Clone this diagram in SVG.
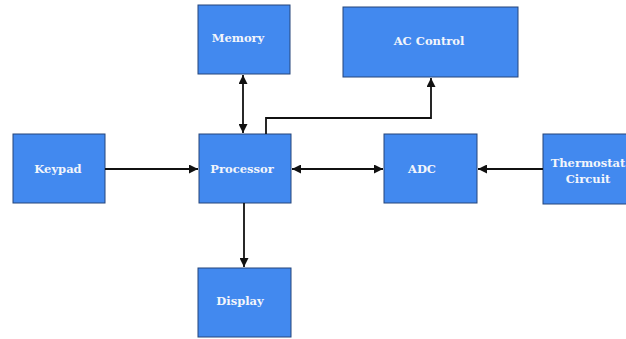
<svg xmlns="http://www.w3.org/2000/svg" width="626" height="339" viewBox="0 0 626 339">
<style>
.box{fill:#4289ef;stroke:#24457a;stroke-width:1}
.lbl{font-family:"DejaVu Serif","Liberation Serif",serif;font-weight:bold;font-size:11.5px;fill:#f2f5fb;text-anchor:middle;dominant-baseline:central}
.con{fill:none;stroke:#111;stroke-width:1.8}
</style>
<defs>
<marker id="ah" viewBox="0 0 10 10" refX="10" refY="5" markerWidth="9" markerHeight="9" orient="auto-start-reverse" markerUnits="userSpaceOnUse">
<path d="M0,0 L10,5 L0,10 z" fill="#111"/>
</marker>
</defs>
<rect width="626" height="339" fill="#fff"/>
<g id="memory"><rect class="box" x="198" y="5" width="92" height="69"/><text class="lbl" x="238" y="38">Memory</text></g>
<g id="ac-control"><rect class="box" x="343" y="7" width="175" height="70"/><text class="lbl" x="429" y="41">AC Control</text></g>
<g id="keypad"><rect class="box" x="13" y="134" width="92" height="69"/><text class="lbl" x="58" y="169">Keypad</text></g>
<g id="processor"><rect class="box" x="199" y="134" width="92" height="69"/><text class="lbl" x="242" y="169">Processor</text></g>
<g id="adc"><rect class="box" x="384" y="134" width="93" height="69"/><text class="lbl" x="422" y="169">ADC</text></g>
<g id="thermostat"><rect class="box" x="543" y="134" width="92" height="70"/><text class="lbl" x="588" y="163">Thermostat</text><text class="lbl" x="588" y="179">Circuit</text></g>
<g id="display"><rect class="box" x="198" y="268" width="93" height="69"/><text class="lbl" x="240" y="301">Display</text></g>
<g id="connectors">
<line class="con" x1="243" y1="75" x2="243" y2="133" marker-start="url(#ah)" marker-end="url(#ah)"/>
<polyline class="con" points="266,134 266,118 431,118 431,78" marker-end="url(#ah)"/>
<line class="con" x1="105" y1="169" x2="198" y2="169" marker-end="url(#ah)"/>
<line class="con" x1="292" y1="169" x2="383" y2="169" marker-start="url(#ah)" marker-end="url(#ah)"/>
<line class="con" x1="543" y1="169" x2="478" y2="169" marker-end="url(#ah)"/>
<line class="con" x1="244" y1="203" x2="244" y2="267" marker-end="url(#ah)"/>
</g>
</svg>
